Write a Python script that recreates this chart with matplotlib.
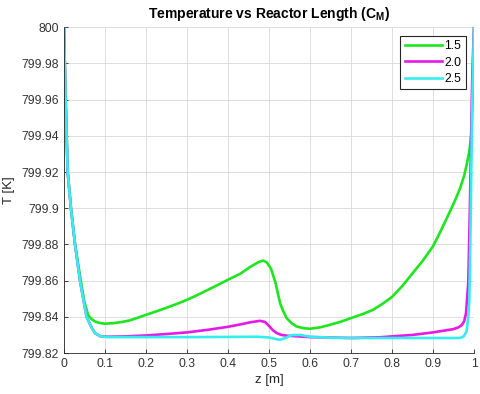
import matplotlib
matplotlib.use("Agg")
import matplotlib.pyplot as plt

plt.rcParams['font.family'] = ['Liberation Sans', 'DejaVu Sans']

#####################################################################
# data
z_15 = [0, 0.002, 0.004, 0.0065, 0.009, 0.017, 0.027, 0.041, 0.050, 0.059,
        0.066, 0.075, 0.085, 0.100, 0.120, 0.140, 0.160, 0.180, 0.200, 0.225,
        0.250, 0.275, 0.300, 0.325, 0.350, 0.375, 0.400, 0.430, 0.455, 0.475,
        0.486, 0.495, 0.505, 0.516, 0.527, 0.535, 0.543, 0.555, 0.567, 0.585,
        0.600, 0.625, 0.649, 0.675, 0.700, 0.727, 0.754, 0.777, 0.800, 0.825,
        0.850, 0.875, 0.900, 0.920, 0.943, 0.955, 0.966, 0.976, 0.983, 0.989,
        0.994, 0.9975, 1.0]
T_15 = [800, 799.98, 799.96, 799.94, 799.92, 799.90, 799.88, 799.86, 799.848, 799.841,
        799.839, 799.8375, 799.8367, 799.8362, 799.8365, 799.8371, 799.838, 799.8395, 799.8411, 799.843,
        799.845, 799.8471, 799.8494, 799.852, 799.8548, 799.8576, 799.8605, 799.8638, 799.8677, 799.8703,
        799.8711, 799.870, 799.8665, 799.8587, 799.8476, 799.843, 799.8393, 799.8365, 799.8347, 799.8337,
        799.8334, 799.8342, 799.8356, 799.8373, 799.8393, 799.8414, 799.8439, 799.8472, 799.851, 799.857,
        799.864, 799.871, 799.879, 799.888, 799.899, 799.905, 799.911, 799.918, 799.925, 799.932,
        799.942, 799.967, 800]

z_20 = [0, 0.002, 0.004, 0.0065, 0.009, 0.017, 0.027, 0.039, 0.055, 0.0675,
        0.0756, 0.088, 0.107, 0.150, 0.200, 0.250, 0.300, 0.350, 0.400, 0.430,
        0.455, 0.478, 0.490, 0.500, 0.510, 0.519, 0.530, 0.543, 0.600, 0.700,
        0.771, 0.800, 0.850, 0.900, 0.9496, 0.962, 0.970, 0.976, 0.9805, 0.986,
        0.990, 0.993, 0.996, 1.0]
T_20 = [800, 799.98, 799.96, 799.94, 799.92, 799.90, 799.88, 799.86, 799.84, 799.834,
        799.831, 799.8293, 799.8290, 799.8292, 799.8297, 799.8305, 799.8314, 799.8328, 799.8345, 799.8358,
        799.8370, 799.8378, 799.8372, 799.8350, 799.8325, 799.8310, 799.8300, 799.8296, 799.8288, 799.8283,
        799.8287, 799.8292, 799.8300, 799.8314, 799.8332, 799.8342, 799.8354, 799.8375, 799.842, 799.8587,
        799.90, 799.94, 799.975, 800]

z_25 = [0, 0.002, 0.004, 0.0065, 0.009, 0.017, 0.027, 0.039, 0.055, 0.0675,
        0.0756, 0.088, 0.107, 0.200, 0.300, 0.400, 0.470, 0.500, 0.515, 0.527,
        0.540, 0.555, 0.576, 0.600, 0.650, 0.700, 0.800, 0.900, 0.966, 0.975,
        0.982, 0.986, 0.9886, 0.992, 0.995, 1.0]
T_25 = [800, 799.98, 799.96, 799.94, 799.92, 799.90, 799.88, 799.86, 799.84, 799.834,
        799.831, 799.8293, 799.8288, 799.8288, 799.8288, 799.8289, 799.8290, 799.8286, 799.8278, 799.8273,
        799.8283, 799.8299, 799.8300, 799.8290, 799.8285, 799.8283, 799.8283, 799.8283, 799.8283, 799.8292,
        799.832, 799.840, 799.849, 799.895, 799.95, 800]

labels = ['1.5', '2.0', '2.5']
colors = ['#1ee61e', '#e619e6', '#33eeee']

x_ticks = [0, 0.1, 0.2, 0.3, 0.4, 0.5, 0.6, 0.7, 0.8, 0.9, 1]
x_ticklabels = ['0', '0.1', '0.2', '0.3', '0.4', '0.5', '0.6', '0.7', '0.8', '0.9', '1']
y_ticks = [799.82, 799.84, 799.86, 799.88, 799.90, 799.92, 799.94, 799.96, 799.98, 800]
y_ticklabels = ['799.82', '799.84', '799.86', '799.88', '799.9', '799.92', '799.94',
                '799.96', '799.98', '800']

######################################################################
fig = plt.figure(figsize=(4.8, 3.94), dpi=100)
ax = fig.add_axes([0.1333, 0.104, 0.8542, 0.8267])

for zz, TT, lab, col in zip([z_15, z_20, z_25], [T_15, T_20, T_25], labels, colors):
    ax.plot(zz, TT, color=col, lw=1.9, label=lab, solid_joinstyle='round')

ax.set_xlim(0, 1)
ax.set_ylim(799.82, 800)
ax.set_xticks(x_ticks)
ax.set_xticklabels(x_ticklabels)
ax.set_yticks(y_ticks)
ax.set_yticklabels(y_ticklabels)

ax.grid(True, color='#d9d9d9', lw=0.6)
ax.set_axisbelow(True)
for s in ['top', 'right']:
    ax.spines[s].set_visible(False)
for s in ['left', 'bottom']:
    ax.spines[s].set_color('#262626')
    ax.spines[s].set_linewidth(0.6)
ax.tick_params(direction='in', length=3, width=0.6, color='#262626',
               labelsize=8.7, labelcolor='#333333')

ax.set_title('Temperature vs Reactor Length (C$_\\mathregular{M}$)',
             fontsize=10, fontweight='bold', pad=7)
ax.set_xlabel('z [m]', fontsize=9.5, color='#262626', labelpad=3)
ax.set_ylabel('T [K]', fontsize=9.5, color='#262626', labelpad=5)

leg = ax.legend(loc='upper right', bbox_to_anchor=(0.980, 0.973), borderaxespad=0,
                fontsize=8.7, handlelength=3.1, handletextpad=0.2, labelspacing=0.35,
                fancybox=False, framealpha=1, borderpad=0.35)
leg.get_frame().set_edgecolor('#262626')
leg.get_frame().set_linewidth(0.8)

plt.savefig('out.png', dpi=100)
